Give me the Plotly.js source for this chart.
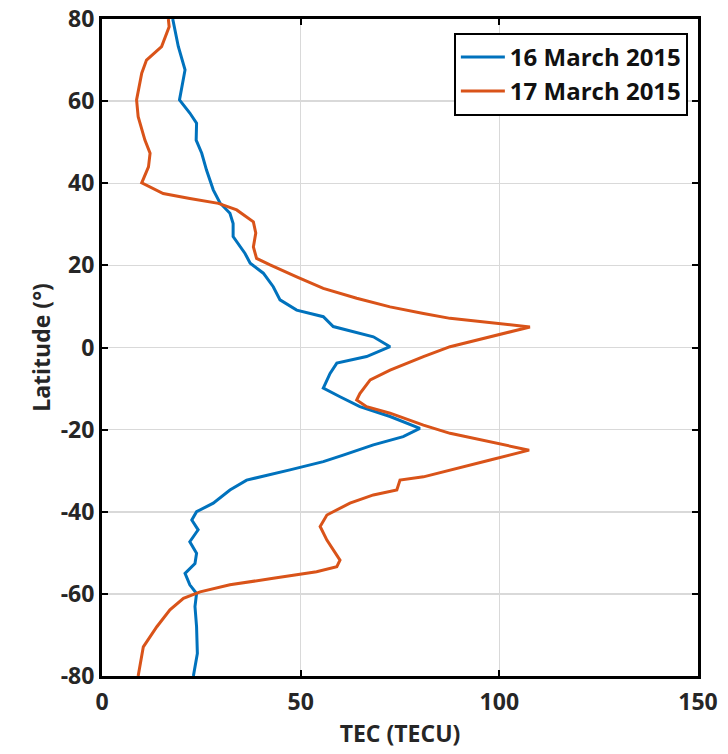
<!DOCTYPE html>
<html>
<head>
<meta charset="utf-8">
<script src="https://cdn.plot.ly/plotly-3.0.1.min.js"></script>
<style>html,body{margin:0;padding:0;background:#fff;}#chart{width:728px;height:754px;}</style>
</head>
<body>
<div id="chart"></div>
<script>
const seriesNames = ["16 March 2015", "17 March 2015"];

const lat16 = [80, 73.3, 67.6, 60.3, 57.1, 54.6, 50.5, 47.3, 43.2, 38.4, 35.2, 32.7, 30.2, 27, 22.9, 20.5, 18.1, 14.8, 11.6, 9.1, 7.5, 5.1, 2.6, 0.2, -2.2, -3.8, -6.3, -9.9, -12, -14.4, -16.8, -19.7, -21.7, -23.7, -26.2, -27.8, -29.8, -32.3, -34.7, -37.9, -40, -42, -44.4, -47.3, -50.1, -52.6, -55, -57.8, -59.9, -63.1, -68, -74.5, -80];
const tec16 = [17.8, 19.2, 20.9, 19.5, 22.1, 23.8, 23.7, 25.1, 26.3, 28, 29.7, 32.2, 33.0, 33.0, 36.0, 37.3, 40.6, 43.1, 44.8, 49.0, 55.7, 58.2, 68.3, 72.5, 66.6, 59.1, 57.4, 55.7, 59.9, 64.9, 72.5, 80.0, 75.8, 68.3, 60.7, 55.7, 47.3, 36.4, 32.2, 28.0, 23.8, 22.6, 24.2, 22.1, 23.8, 23.4, 20.9, 22.1, 23.8, 23.4, 23.8, 24.0, 23.0];

const lat17 = [80, 78.1, 73.3, 70, 66.8, 60.3, 56.2, 50.5, 47.3, 44, 40.1, 37.5, 36.3, 35.1, 33.5, 30.6, 27.9, 24.5, 21.7, 20.1, 17.2, 14.4, 12.0, 9.9, 8.3, 7.1, 5.0, 0.2, -2.2, -5.5, -7.9, -11.2, -12.8, -14.4, -16, -17.7, -18.9, -20.9, -22.9, -25.0, -27.4, -29.4, -31.5, -32.3, -34.7, -35.9, -37.9, -40.8, -43.6, -46.9, -51.8, -53.4, -54.6, -56.2, -57.8, -59.5, -61.1, -63.9, -68, -72.9, -80];
const tec17 = [16.7, 16.9, 15.0, 11.2, 10.0, 8.7, 9.1, 10.8, 12.1, 11.7, 10.0, 15.4, 22.1, 29.3, 33.9, 38.1, 38.7, 38.1, 38.9, 42.3, 49.0, 55.7, 64.1, 72.5, 80.9, 87.6, 107.7, 87.6, 80.9, 72.5, 67.5, 64.9, 64.1, 66.6, 72.5, 77.5, 80.9, 87.6, 97.7, 107.5, 97.7, 89.3, 80.9, 75.0, 74.2, 68.3, 62.4, 56.6, 54.9, 56.6, 59.9, 59.1, 54.0, 43.1, 32.2, 24.7, 20.5, 17.1, 13.8, 10.4, 9.1];

const xTicks = [0, 50, 100, 150];
const yTicks = [-80, -60, -40, -20, 0, 20, 40, 60, 80];

const fam = "Open Sans, Noto Sans, sans-serif";
const tickFont = {family: fam, size: 23, color: "#262626", weight: "bold"};
const titleFont = {family: fam, size: 23, color: "#262626", weight: "bold"};

const traces = [
  {x: tec16, y: lat16, name: seriesNames[0], mode: "lines", line: {color: "#0072BD", width: 3}},
  {x: tec17, y: lat17, name: seriesNames[1], mode: "lines", line: {color: "#D95319", width: 3}}
];

const axisCommon = {
  showline: true, linecolor: "#000", linewidth: 3, mirror: "ticks",
  ticks: "inside", ticklen: 6, tickwidth: 2, tickcolor: "#000",
  showgrid: true, gridcolor: "#d9d9d9", gridwidth: 1.5,
  zeroline: false, tickfont: tickFont, automargin: false
};

const layout = {
  width: 728, height: 754,
  margin: {l: 102, r: 30, t: 19, b: 78},
  paper_bgcolor: "#fff", plot_bgcolor: "#fff",
  font: tickFont,
  showlegend: true,
  legend: {
    x: 0.983, y: 0.979, xanchor: "right", yanchor: "top",
    bordercolor: "#000", borderwidth: 2, bgcolor: "#fff",
    font: {family: fam, size: 24, color: "#111", weight: "bold"},
    tracegroupgap: 0, itemwidth: 44
  },
  xaxis: Object.assign({}, axisCommon, {
    range: [0, 150], tickvals: xTicks, ticktext: xTicks.map(String),
    ticklabelstandoff: 3,
    title: {text: "TEC (TECU)", font: titleFont, standoff: 11}
  }),
  yaxis: Object.assign({}, axisCommon, {
    range: [-80, 80], tickvals: yTicks, ticktext: yTicks.map(String),
    title: {text: "Latitude (°)", font: titleFont, standoff: 4}
  })
};

Plotly.newPlot("chart", traces, layout, {displayModeBar: false, staticPlot: true});
</script>
</body>
</html>
